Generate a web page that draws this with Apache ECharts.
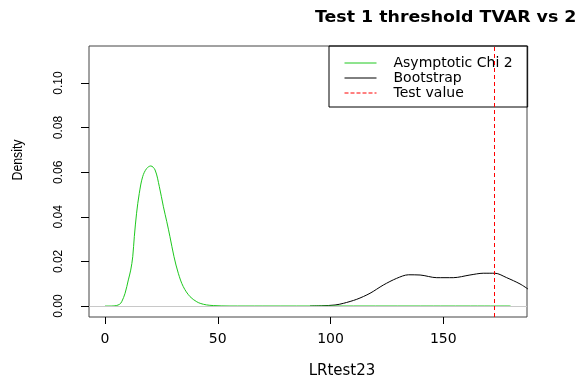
<!DOCTYPE html>
<html>
<head>
<meta charset="utf-8">
<script src="https://cdn.jsdelivr.net/npm/echarts@6/dist/echarts.min.js"></script>
<style>
  html, body { margin: 0; padding: 0; background: #fff; }
  #chart { width: 575px; height: 377px; }
</style>
</head>
<body>
<div id="chart"></div>
<script>
// values
const chiX = [0, 3, 5, 6.5, 7.4, 8.9, 10.35, 11.4, 12.3, 13.0, 14.0, 15.2, 16.7, 18.5, 20.3, 22.2, 24.1, 25.9, 27.4, 28.8, 30.6, 32.5, 34.7, 37.7, 40.7, 42.5, 45, 48, 55, 70, 100, 140, 179.8];
const chiY = [0, 0, 0.0002, 0.0008, 0.0019, 0.0057, 0.0117, 0.0161, 0.0221, 0.0311, 0.0416, 0.0505, 0.0580, 0.0617, 0.0628, 0.0610, 0.0535, 0.0445, 0.0378, 0.0311, 0.0221, 0.0147, 0.0087, 0.0042, 0.0019, 0.0011, 0.0005, 0.0002, 0, 0, 0, 0, 0];
const bootX = [90.9, 96, 102, 105.7, 111.6, 117.5, 123.4, 129.3, 134.5, 139.7, 147.1, 154.4, 161.8, 167.7, 172.9, 178.1, 184, 187.7];
const bootY = [0, 0.0001, 0.00045, 0.0012, 0.003, 0.0057, 0.0094, 0.0124, 0.0140, 0.0139, 0.0127, 0.0127, 0.0139, 0.0147, 0.0147, 0.0127, 0.0099, 0.0075];
const testValue = 172.7;
const xTicks = [0, 50, 100, 150];
const yTicks = [0, 0.02, 0.04, 0.06, 0.08, 0.10];

const pairs = (xs, ys) => xs.map((x, i) => [x, ys[i]]);

// plot region (R's usr range) and its place on the page
const XMIN = -7.09, XMAX = 187.1;
const YMIN = -0.00493, YMAX = 0.1166;
const G = { left: 89, top: 46, width: 438, height: 271 };
const pxX = (v) => G.left + (v - XMIN) / (XMAX - XMIN) * G.width;
const pxY = (v) => G.top + (YMAX - v) / (YMAX - YMIN) * G.height;
const TICK_X = 7, TICK_Y = 8;

// R's axes run from the first to the last tick, with ticks outside the box:
// two thin strip grids just outside the box carry them (split lines = ticks)
const xT0 = xTicks[0], xT1 = xTicks[xTicks.length - 1];
const yT0 = yTicks[0], yT1 = yTicks[yTicks.length - 1];

const chart = echarts.init(document.getElementById('chart'), null, { renderer: 'canvas' });

const font = 'DejaVu Sans';
const arial = "'Liberation Sans', Arial, sans-serif";
const tickLine = { show: true, showMinLine: true, showMaxLine: true, lineStyle: { color: '#000', width: 1, type: 'solid' } };
// an axis with no data is "blank" and draws no ticks, so the strips get an invisible series
const ghost = { type: 'line', symbol: 'none', silent: true, lineStyle: { opacity: 0 }, tooltip: { show: false } };

chart.setOption({
  animation: false,
  backgroundColor: '#fff',
  grid: [
    { left: G.left, top: G.top, width: G.width, height: G.height, show: true, borderColor: '#444', borderWidth: 1 },
    { left: pxX(xT0), top: G.top + G.height, width: pxX(xT1) - pxX(xT0), height: TICK_X },
    { left: G.left - TICK_Y, top: pxY(yT1), width: TICK_Y, height: pxY(yT0) - pxY(yT1) }
  ],
  legend: {
    data: ['Asymptotic Chi 2', 'Bootstrap', 'Test value'],
    orient: 'vertical',
    left: 329, top: 46,
    padding: [10, 15, 7, 15],
    itemWidth: 32, itemHeight: 14, itemGap: 1,
    borderColor: '#000', borderWidth: 1, borderRadius: 0,
    itemStyle: { opacity: 0, color: 'transparent', borderWidth: 0 },
    lineStyle: { width: 1 },
    textStyle: { fontFamily: font, fontSize: 14, color: '#000', padding: [0, 0, 0, 12], lineHeight: 14 },
    selectedMode: false
  },
  xAxis: [
    { gridIndex: 0, type: 'value', min: XMIN, max: XMAX, show: false },
    {
      gridIndex: 1, type: 'value', min: xT0, max: xT1, interval: 50, position: 'bottom',
      axisLine: { show: false, onZero: false },
      axisTick: { show: false },
      splitLine: tickLine,
      axisLabel: { margin: 8, color: '#000', fontFamily: font, fontSize: 14 }
    },
    { gridIndex: 2, type: 'value', min: 0, max: 1, show: false }
  ],
  yAxis: [
    { gridIndex: 0, type: 'value', min: YMIN, max: YMAX, show: false },
    { gridIndex: 1, type: 'value', min: 0, max: 1, show: false },
    {
      gridIndex: 2, type: 'value', min: yT0, max: yT1, interval: 0.02, position: 'left',
      axisLine: { show: false, onZero: false },
      axisTick: { show: false },
      splitLine: tickLine,
      axisLabel: {
        rotate: 90, margin: 16, color: '#000',
        fontFamily: arial, fontSize: 12,
        formatter: (v) => v.toFixed(2)
      }
    }
  ],
  graphic: [
    { type: 'text', x: 315, y: 18, scaleX: 1.16, style: { text: 'Test 1 threshold TVAR vs 2', fontFamily: font, fontWeight: 'bold', fontSize: 15, fill: '#000', verticalAlign: 'middle' } },
    { type: 'text', x: 342, y: 371, style: { text: 'LRtest23', fontFamily: font, fontSize: 15, fill: '#000', align: 'center', verticalAlign: 'middle' } },
    { type: 'text', x: 18, y: 160, rotation: Math.PI / 2, scaleX: 0.82, style: { text: 'Density', fontFamily: arial, fontSize: 15, fill: '#000', align: 'center', verticalAlign: 'middle' } }
  ],
  series: [
    Object.assign({ name: 'xTickStrip', xAxisIndex: 1, yAxisIndex: 1, data: xTicks.map((v) => [v, 0.5]) }, ghost),
    Object.assign({ name: 'yTickStrip', xAxisIndex: 2, yAxisIndex: 2, data: yTicks.map((v) => [0.5, v]) }, ghost),
    {
      name: 'Bootstrap', type: 'line', data: pairs(bootX, bootY),
      symbol: 'none', smooth: 0.3, clip: true,
      lineStyle: { color: '#000', width: 1 }, itemStyle: { color: '#000' },
      z: 2
    },
    {
      name: 'zero', type: 'line', data: [],
      symbol: 'none',
      markLine: {
        silent: true, symbol: 'none', label: { show: false },
        lineStyle: { color: '#c8c8c8', type: 'solid', width: 1 },
        data: [{ yAxis: 0 }]
      },
      z: 3
    },
    {
      name: 'Asymptotic Chi 2', type: 'line', data: pairs(chiX, chiY),
      symbol: 'none', smooth: 0.35, clip: true,
      lineStyle: { color: '#1ec81e', width: 1 }, itemStyle: { color: '#1ec81e' },
      z: 4
    },
    {
      name: 'Test value', type: 'line', data: [],
      symbol: 'none',
      lineStyle: { color: '#ff0000', type: 'dashed', width: 1 }, itemStyle: { color: '#ff0000' },
      markLine: {
        silent: true, symbol: 'none', label: { show: false },
        lineStyle: { color: '#ff0000', type: [4, 3], width: 1 },
        data: [{ xAxis: testValue }]
      },
      z: 10
    }
  ]
});
</script>
</body>
</html>
